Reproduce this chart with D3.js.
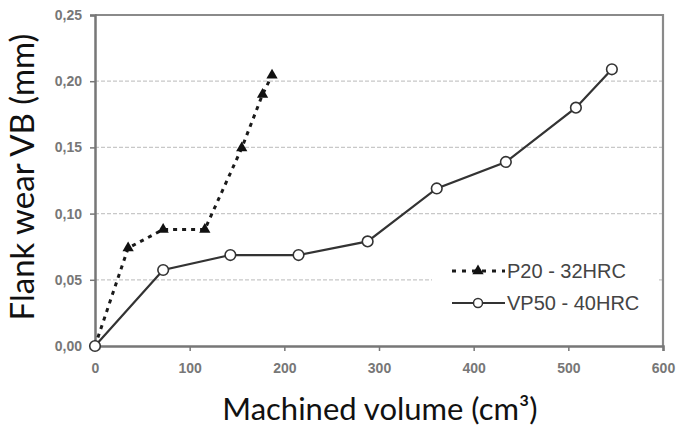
<!DOCTYPE html>
<html><head><meta charset="utf-8">
<script src="https://cdn.jsdelivr.net/npm/d3@7"></script>
<style>body{margin:0;background:#fff}</style>
</head><body>
<svg id="c" width="685" height="427"></svg>
<script>
const xTicks = [0,100,200,300,400,500,600];
const yTicks = [0,0.05,0.10,0.15,0.20,0.25];
const p20X = [0,35,72,116,155,177,187];
const p20Y = [0,0.074,0.088,0.088,0.1495,0.19,0.2045];
const vp50X = [0,72,143,215,288,361,434,508,546];
const vp50Y = [0,0.0574,0.0687,0.0687,0.079,0.119,0.139,0.180,0.209];
const seriesNames = ["P20 - 32HRC","VP50 - 40HRC"];

const svg = d3.select("#c");
const L=95,R=663,T=15,B=346;
const x = d3.scaleLinear().domain([0,600]).range([L,R]);
const y = d3.scaleLinear().domain([0,0.25]).range([B,T]);
const fmt = d=>d3.format(".2f")(d).replace(".",",");

// grid
svg.append("g").selectAll("line").data(yTicks.filter(d=>d>0&&d<0.25)).join("line")
  .attr("x1",L).attr("x2",R).attr("y1",d=>y(d)).attr("y2",d=>y(d))
  .attr("stroke","#c8c8c8").attr("stroke-width",1.2).attr("stroke-dasharray","4,2");

// frame top/right
svg.append("path").attr("d",`M${L},${T}H${R}V${B}`).attr("fill","none").attr("stroke","#8a8a8a").attr("stroke-width",2.2);

// legend background
svg.append("rect").attr("x",432).attr("y",252).attr("width",225).attr("height",70).attr("fill","#fff");

// axes
const xa = svg.append("g").attr("transform",`translate(0,${B})`)
  .call(d3.axisBottom(x).tickValues(xTicks).tickSize(5).tickPadding(12).tickFormat(d3.format("d")));
const ya = svg.append("g").attr("transform",`translate(${L},0)`)
  .call(d3.axisLeft(y).tickValues(yTicks).tickSize(5).tickPadding(8).tickFormat(fmt));
[xa,ya].forEach(a=>{
  a.select(".domain").attr("stroke","#777").attr("stroke-width",2.5);
  a.selectAll(".tick line").attr("stroke","#777").attr("stroke-width",1.5);
  a.selectAll("text").attr("fill","#777").attr("font-family","Liberation Sans, Arial, sans-serif")
   .attr("font-size",14).attr("font-weight","bold");
});

const line = d3.line().x(d=>x(d[0])).y(d=>y(d[1]));
const p20 = p20X.map((v,i)=>[v,p20Y[i]]);
const vp50 = vp50X.map((v,i)=>[v,vp50Y[i]]);

svg.append("path").datum(p20).attr("d",line).attr("fill","none")
  .attr("stroke","#1a1a1a").attr("stroke-width",3).attr("stroke-dasharray","4,5");
svg.append("path").datum(vp50).attr("d",line).attr("fill","none")
  .attr("stroke","#333").attr("stroke-width",2.2);

const tri = d3.symbol().type(d3.symbolTriangle).size(55);
svg.append("g").selectAll("path").data(p20).join("path")
  .attr("d",tri).attr("transform",d=>`translate(${x(d[0])},${y(d[1])})`).attr("fill","#111");
svg.append("g").selectAll("circle").data(vp50).join("circle")
  .attr("cx",d=>x(d[0])).attr("cy",d=>y(d[1])).attr("r",5.3)
  .attr("fill","#fff").attr("stroke","#333").attr("stroke-width",1.6);

// legend
const lg = svg.append("g");
const ly1=271, ly2=303;
lg.append("line").attr("x1",452).attr("x2",505).attr("y1",ly1).attr("y2",ly1)
  .attr("stroke","#1a1a1a").attr("stroke-width",3).attr("stroke-dasharray","4,6");
lg.append("path").attr("d",tri).attr("transform",`translate(478,${ly1})`).attr("fill","#111");
lg.append("line").attr("x1",452).attr("x2",505).attr("y1",ly2).attr("y2",ly2)
  .attr("stroke","#333").attr("stroke-width",2.2);
lg.append("circle").attr("cx",478).attr("cy",ly2).attr("r",4.5).attr("fill","#fff").attr("stroke","#333").attr("stroke-width",1.5);
lg.selectAll("text").data(seriesNames).join("text")
  .attr("x",507).attr("y",(d,i)=>i?ly2:ly1).attr("dy","0.36em")
  .attr("font-family","Liberation Sans, Arial, sans-serif").attr("font-size",20).attr("fill","#444")
  .text(d=>d);

// titles
svg.append("text").attr("x",380).attr("y",420).attr("text-anchor","middle")
  .attr("font-family","Lato, 'Open Sans', sans-serif").attr("font-size",31).attr("fill","#111")
  .text("Machined volume (cm³)");
svg.append("text").attr("transform","translate(34,177) rotate(-90)").attr("text-anchor","middle")
  .attr("font-family","Lato, 'Open Sans', sans-serif").attr("font-size",33).attr("fill","#111")
  .text("Flank wear VB (mm)");
</script>
</body></html>
